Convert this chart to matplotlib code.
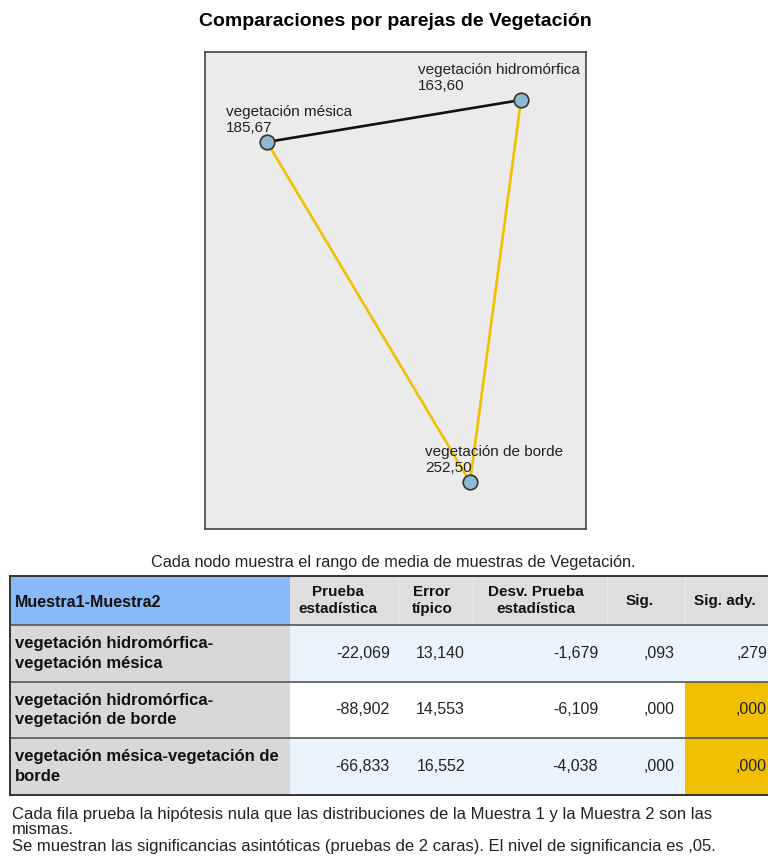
import matplotlib.pyplot as plt
from matplotlib.patches import Rectangle

plt.rcParams["font.family"] = ["Liberation Sans", "DejaVu Sans"]

# datos del grafico de nodos
node_names = ["vegetación mésica", "vegetación hidromórfica", "vegetación de borde"]
node_ranks = [185.67, 163.60, 252.50]
# posicion de los nodos en el diagrama (px dentro del recuadro)
node_x = [62, 316, 265]
node_y = [387, 429, 47]
label_dx = [-41, -103, -45]

# tabla de comparaciones
pair_labels = [
    "vegetación hidromórfica-\nvegetación mésica",
    "vegetación hidromórfica-\nvegetación de borde",
    "vegetación mésica-vegetación de\nborde",
]
pair_nodes = [(1, 0), (1, 2), (0, 2)]
test_stat = [-22.069, -88.902, -66.833]
std_error = [13.140, 14.553, 16.552]
std_test_stat = [-1.679, -6.109, -4.038]
sig = [0.093, 0.000, 0.000]
sig_adj = [0.279, 0.000, 0.000]
col_headers = ["Muestra1-Muestra2", "Prueba\nestadística", "Error\ntípico",
               "Desv. Prueba\nestadística", "Sig.", "Sig. ady."]
footnotes = [
    "Cada fila prueba la hipótesis nula que las distribuciones de la Muestra 1 y la Muestra 2 son las",
    "mismas.",
    "Se muestran las significancias asintóticas (pruebas de 2 caras). El nivel de significancia es ,05.",
]
alpha = 0.05

GOLD = "#f0bf00"


def fmt(v, dec=3):
    s = f"{v:.{dec}f}".replace(".", ",")
    if s.startswith("0,"):
        s = s[1:]
    elif s.startswith("-0,"):
        s = "-" + s[2:]
    return s


W, H = 768, 857
fig = plt.figure(figsize=(W / 100, H / 100), dpi=100)

fig.text(395 / W, 1 - 22 / H, "Comparaciones por parejas de Vegetación",
         ha="center", va="center", fontsize=14, fontweight="bold")

# ---- grafico de red ----
bx0, by0, bx1, by1 = 205, 52, 586, 529
ax = fig.add_axes([bx0 / W, 1 - by1 / H, (bx1 - bx0) / W, (by1 - by0) / H])
ax.set_facecolor("#ebebeb")
ax.set_xlim(0, bx1 - bx0)
ax.set_ylim(0, by1 - by0)
ax.set_xticks([])
ax.set_yticks([])
for sp in ax.spines.values():
    sp.set_color("#444444")
    sp.set_linewidth(1.2)

for (a, b), p in zip(pair_nodes, sig_adj):
    color = GOLD if p < alpha else "#111111"
    ax.plot([node_x[a], node_x[b]], [node_y[a], node_y[b]], color=color,
            lw=1.9, solid_capstyle="round", zorder=2)

ax.scatter(node_x, node_y, s=110, color="#8fb9d3", edgecolor="#333333",
           linewidth=1.2, zorder=3)

for name, r, x, y, dx in zip(node_names, node_ranks, node_x, node_y, label_dx):
    ax.text(x + dx, y + 7, f"{name}\n{fmt(r, 2)}", ha="left", va="bottom",
            fontsize=11, color="#222222", linespacing=1.2, zorder=4)

fig.text(393 / W, 1 - 563 / H,
         "Cada nodo muestra el rango de media de muestras de Vegetación.",
         ha="center", va="center", fontsize=11.7, color="#222222")

# ---- tabla ----
tx = fig.add_axes([0, 0, 1, 1])
tx.set_xlim(0, W)
tx.set_ylim(H, 0)
tx.axis("off")

col_edges = [10, 290, 398, 473, 607, 685, 800]
row_edges = [576, 625, 682, 738, 795]

# cabecera
tx.add_patch(Rectangle((col_edges[0], row_edges[0]), col_edges[1] - col_edges[0],
                       row_edges[1] - row_edges[0], color="#89b9f7", lw=0))
tx.add_patch(Rectangle((col_edges[1], row_edges[0]), col_edges[-1] - col_edges[1],
                       row_edges[1] - row_edges[0], color="#dedede", lw=0))
for x in col_edges[2:-1]:
    tx.plot([x, x], [row_edges[0] + 2, row_edges[1] - 2], color="#e9e9e9", lw=1)
hy = (row_edges[0] + row_edges[1]) / 2
tx.text(15, hy + 2, col_headers[0], ha="left", va="center", fontsize=11.5,
        fontweight="bold", color="#111111")
head_cx = [338, 432, 536, 640, 725]
for j in range(1, 6):
    tx.text(head_cx[j - 1], hy, col_headers[j], ha="center", va="center", fontsize=11,
            fontweight="bold", color="#111111", linespacing=1.3)

# filas
right_x = [390, 465, 598, 675, 767]
for i in range(3):
    y0, y1 = row_edges[i + 1], row_edges[i + 2]
    cy = (y0 + y1) / 2
    body = "#eaf4fe" if i != 1 else "#ffffff"
    tx.add_patch(Rectangle((col_edges[0], y0), col_edges[1] - col_edges[0], y1 - y0,
                           color="#d8d8d8", lw=0))
    tx.add_patch(Rectangle((col_edges[1], y0), col_edges[-1] - col_edges[1], y1 - y0,
                           color=body, lw=0))
    if sig_adj[i] < alpha:
        tx.add_patch(Rectangle((col_edges[5], y0), col_edges[6] - col_edges[5], y1 - y0,
                               color=GOLD, lw=0))
    tx.text(15, cy, pair_labels[i], ha="left", va="center", fontsize=12,
            fontweight="bold", color="#111111", linespacing=1.4)
    vals = [fmt(test_stat[i]), fmt(std_error[i]), fmt(std_test_stat[i]),
            fmt(sig[i]), fmt(sig_adj[i])]
    for v, rx in zip(vals, right_x):
        tx.text(rx, cy, v, ha="right", va="center", fontsize=11.5, color="#222222")

# lineas de la tabla
for k, y in enumerate(row_edges):
    tx.plot([10, 800], [y, y], color="#333333" if k in (0, 4) else "#555555",
            lw=1.4 if k in (0, 4) else 1.2)
tx.plot([10, 10], [row_edges[0], row_edges[-1]], color="#333333", lw=1.4)

for line, y in zip(footnotes, [815, 830, 846]):
    tx.text(12, y, line, ha="left", va="center", fontsize=12, color="#222222")

fig.savefig("out.png", dpi=100)
